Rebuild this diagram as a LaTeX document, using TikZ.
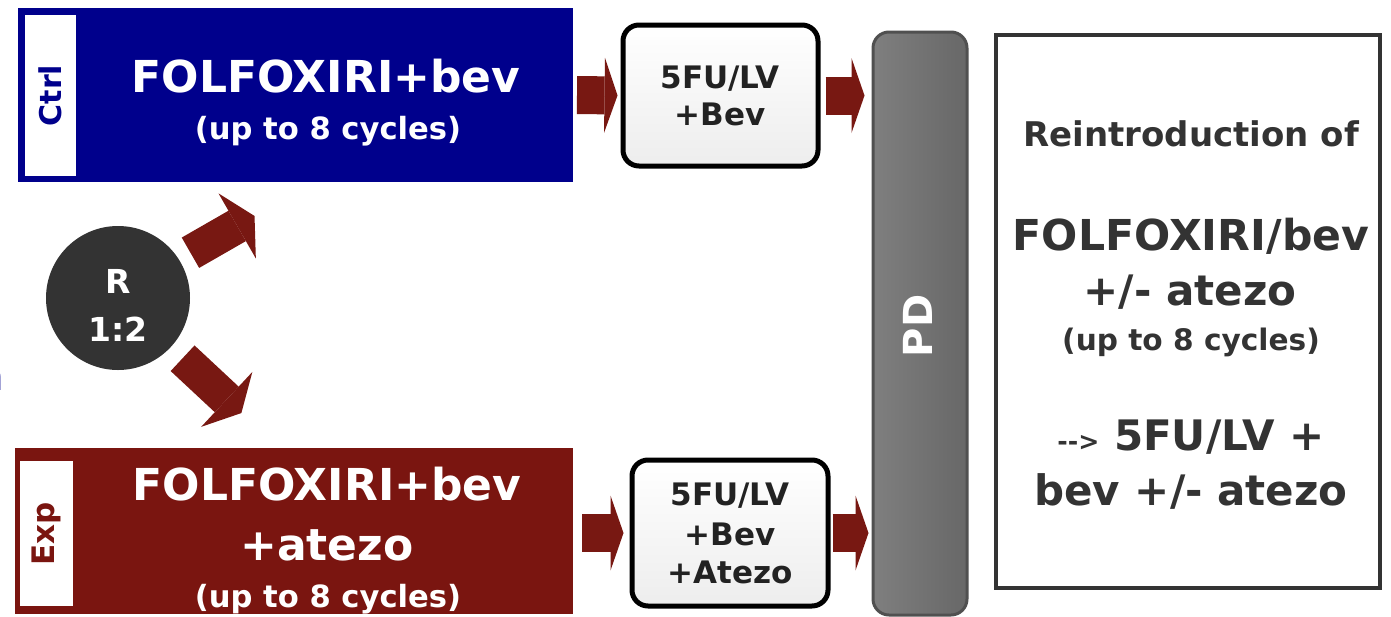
\documentclass[tikz,border=0pt]{standalone}
\usepackage{fontspec}
\setmainfont{DejaVu Sans}
\usetikzlibrary{arrows.meta,calc}
\definecolor{ctrlblue}{RGB}{0,0,140}
\definecolor{expred}{RGB}{122,21,16}
\definecolor{arrred}{RGB}{120,24,18}
\definecolor{rgray}{RGB}{51,51,51}
\definecolor{txtdark}{RGB}{34,34,34}
\definecolor{rtxt}{RGB}{51,51,51}
\definecolor{pdgray}{RGB}{138,138,138}
\definecolor{pddark}{RGB}{80,80,80}
\newcommand\fsz[1]{\fontsize{#1}{#1}\selectfont\bfseries}
\begin{document}
\begin{tikzpicture}[x=0.5pt,y=-0.5pt,
  armbox/.style={rectangle, inner sep=0pt, outer sep=0pt},
  tabbox/.style={rectangle, fill=white, inner sep=0pt, rotate=90},
  maintxt/.style={anchor=base, text=white, inner sep=0pt},
  darktxt/.style={anchor=base, text=txtdark, inner sep=0pt},
  righttxt/.style={anchor=base, text=rtxt, inner sep=0pt},
  fubox/.style={rectangle, rounded corners=8pt, draw=black, line width=2.5pt,
    top color=white, bottom color=black!7, inner sep=0pt},
  blockarrow/.style={draw=arrred, line width=19pt,
    -{Triangle[length=6.5pt,width=37.5pt,line width=0pt]}},
  diagarrow/.style={draw=arrred, line width=17.5pt,
    -{Triangle[length=10pt,width=37.5pt,line width=0pt]}},
]
\useasboundingbox (0,0) rectangle (1391,616);

% Ctrl arm
\node[armbox, fill=ctrlblue, minimum width=277.5pt, minimum height=87pt] (ctrl) at (295.5,95) {};
\node[tabbox, minimum width=80.5pt, minimum height=25.5pt, text=ctrlblue] (ctrltab) at (50.5,95.5) {\fsz{15}Ctrl};
\node[maintxt] (ctrl1) at (326,92) {\fsz{22}FOLFOXIRI+bev};
\node[maintxt] (ctrl2) at (328,139) {\fsz{15.3}(up to 8 cycles)};

% Exp arm
\node[armbox, fill=expred, minimum width=279pt, minimum height=83pt] (exp) at (294,531) {};
\node[tabbox, minimum width=72.5pt, minimum height=26.5pt, text=expred] (exptab) at (46.5,533.5) {\fsz{15.5}Exp};
\node[maintxt] (exp1) at (327,500) {\fsz{22}FOLFOXIRI+bev};
\node[maintxt] (exp2) at (327,560) {\fsz{22}+atezo};
\node[maintxt] (exp3) at (328,607) {\fsz{15.3}(up to 8 cycles)};

% stray clipped letter at left edge
\node[anchor=base east, text=ctrlblue, inner sep=0pt] (stray) at (4,390) {\fsz{20}n};

% Randomisation
\node[circle, fill=rgray, minimum size=72pt, inner sep=0pt] (R) at (118,298) {};
\node[maintxt] (Rt1) at (118,293) {\fsz{16.5}R};
\node[maintxt] (Rt2) at (118,341) {\fsz{16.5}1:2};

% maintenance boxes
\node[fubox, minimum width=97.5pt, minimum height=70.5pt] (fu1) at (720.5,95.5) {};
\node[darktxt] (fu1a) at (720,88) {\fsz{15.5}5FU/LV};
\node[darktxt] (fu1b) at (720,125) {\fsz{15.5}+Bev};

\node[fubox, minimum width=98pt, minimum height=73pt] (fu2) at (730,533) {};
\node[darktxt] (fu2a) at (730,505) {\fsz{15.5}5FU/LV};
\node[darktxt] (fu2b) at (730,545) {\fsz{15.5}+Bev};
\node[darktxt] (fu2c) at (730,583) {\fsz{15.5}+Atezo};

% PD bar
\node[rectangle, rounded corners=8pt, draw=pddark, line width=1.5pt,
  left color=pdgray!92!black, middle color=pdgray, right color=pdgray!75!black,
  minimum width=47pt, minimum height=291.5pt, inner sep=0pt] (pd) at (920,323.5) {};
\node[text=white, rotate=90, inner sep=0pt] (pdt) at (918,326) {\fsz{20}PD};

% Reintroduction box
\node[rectangle, draw=rgray, line width=2pt, fill=white,
  minimum width=192pt, minimum height=276.5pt, inner sep=0pt] (rbox) at (1188,311.5) {};
\node[righttxt] (r1) at (1191,146) {\fsz{17}Reintroduction of};
\node[righttxt] (r2) at (1191,250) {\fsz{21.3}FOLFOXIRI/bev};
\node[righttxt] (r3) at (1190,305) {\fsz{21}+/- atezo};
\node[righttxt] (r4) at (1191,350) {\fsz{14.8}(up to 8 cycles)};
\node[righttxt] (r5) at (1191,450) {{\fsz{12.6}-{}->}{\fsz{21}\ 5FU/LV +}};
\node[righttxt] (r6) at (1191,505) {\fsz{21}bev +/- atezo};

% arrows
\draw[diagarrow] ($(R.center)!1.18!(R.32)$) -- ($(R.center)!2.2!(R.31)$);
\draw[diagarrow] ($(R.center)!1.22!(R.-43)$) -- ($(R.center)!2.33!(R.-43)$);
\draw[blockarrow] ($(ctrl.east)+(4,0)$) -- ($(fu1.west)+(-3,0)$);
\draw[blockarrow] ($(fu1.east)+(5,0)$) -- ($(fu1.east -| pd.west)+(-7,0)$);
\draw[blockarrow] ($(exp.east |- fu2.west)+(9,0)$) -- ($(fu2.west)+(-6,0)$);
\draw[blockarrow] ($(fu2.east)+(2,0)$) -- ($(fu2.east -| pd.west)+(-3,0)$);
\end{tikzpicture}
\end{document}
